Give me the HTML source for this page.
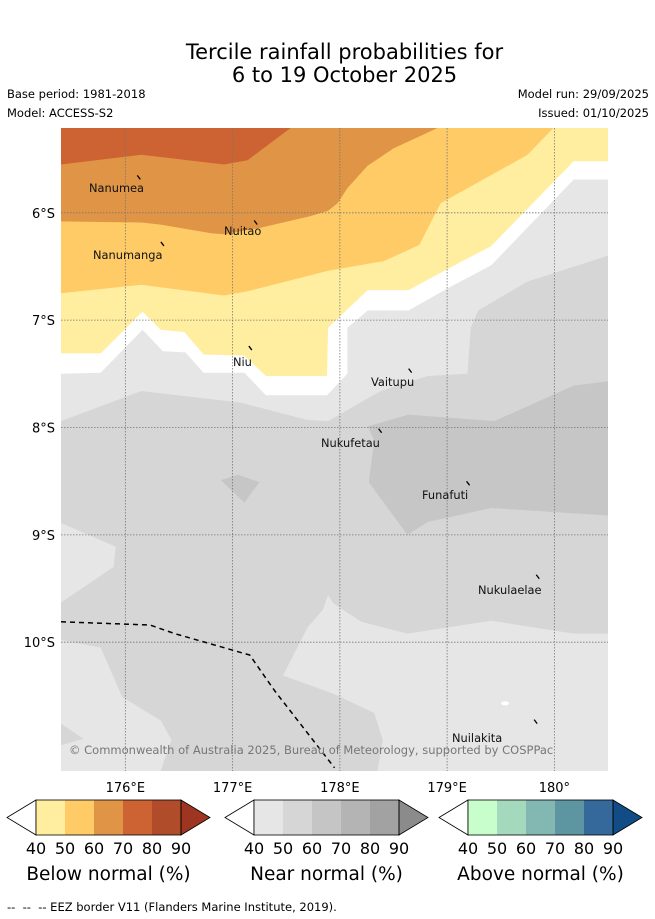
<!DOCTYPE html>
<html><head><meta charset="utf-8"><style>
body{margin:0;background:#fff;font-family:"Liberation Sans","DejaVu Sans",sans-serif}
#wrap{position:relative;width:655px;height:919px;overflow:hidden}
.t{position:absolute;white-space:nowrap;color:#000}
</style></head><body>
<div id="wrap">
<div class="t" style="left:0;width:689px;top:41px;text-align:center;font-size:21px;line-height:23px;font-family:'DejaVu Sans',sans-serif">Tercile rainfall probabilities for<br>6 to 19 October 2025</div>
<div class="t" style="left:7px;top:87px;font-size:11.5px;font-family:'DejaVu Sans',sans-serif">Base period: 1981-2018</div>
<div class="t" style="left:7px;top:106px;font-size:11.5px;font-family:'DejaVu Sans',sans-serif">Model: ACCESS-S2</div>
<div class="t" style="right:6px;top:87px;font-size:11.5px;font-family:'DejaVu Sans',sans-serif">Model run: 29/09/2025</div>
<div class="t" style="right:6px;top:106px;font-size:11.5px;font-family:'DejaVu Sans',sans-serif">Issued: 01/10/2025</div>
<svg id="svg" width="655" height="919" style="position:absolute;left:0;top:0" font-family="DejaVu Sans, sans-serif"></svg>
<div class="t" style="left:7px;top:900px;font-size:11.5px;font-family:'DejaVu Sans',sans-serif">--&nbsp; --&nbsp; -- EEZ border V11 (Flanders Marine Institute, 2019).</div>
</div>
<script>
// map extent / ticks
const lonTicks=[176,177,178,179,180];
const lonTickLabels=["176°E","177°E","178°E","179°E","180°"];
const latTicks=[6,7,8,9,10];
const latTickLabels=["6°S","7°S","8°S","9°S","10°S"];
// polygons: [lon, latS]
const grayBase=[[175.40,5.21],[180.50,5.21],[180.50,11.20],[175.40,11.20]];
const near50=[[175.40,7.94],[176.15,7.66],[177.08,7.77],[177.70,7.93],[177.89,7.94],[178.38,7.66],[178.82,7.52],[179.19,7.50],[179.22,7.07],[179.29,6.91],[179.75,6.64],[180.50,6.40],[180.50,9.92],[180.18,9.92],[179.41,9.80],[178.63,9.92],[178.20,9.81],[177.94,9.64],[177.89,9.56],[177.84,9.70],[177.70,9.86],[177.47,10.31],[177.94,10.48],[178.32,10.66],[178.40,10.91],[178.35,11.20],[176.33,11.20],[176.43,10.91],[176.33,10.73],[175.97,10.51],[175.77,10.05],[175.40,9.98],[175.40,9.63],[175.89,9.30],[175.91,9.11],[175.40,8.89]];
const near50b=[[175.40,10.76],[175.61,10.90],[175.40,10.96]];
const near60=[[178.26,7.99],[178.64,7.88],[179.44,7.94],[180.18,7.61],[180.50,7.57],[180.50,8.82],[179.41,8.75],[178.82,8.88],[178.63,9.00],[178.27,8.51],[178.32,8.12]];
const near60b=[[176.89,8.49],[177.05,8.44],[177.25,8.51],[177.11,8.70]];
const noSignal=[[175.40,5.21],[180.50,5.21],[180.50,5.69],[180.18,5.69],[179.41,6.49],[179.03,6.69],[178.64,6.91],[178.26,6.91],[178.07,7.07],[178.07,7.50],[177.88,7.70],[177.31,7.70],[177.11,7.49],[176.73,7.49],[176.56,7.30],[176.35,7.29],[176.16,7.09],[175.77,7.49],[175.40,7.50]];
const below40=[[175.40,5.21],[180.50,5.21],[180.50,5.52],[180.18,5.52],[179.41,6.31],[179.03,6.51],[178.64,6.72],[178.26,6.72],[177.89,7.07],[177.88,7.52],[177.31,7.52],[177.11,7.33],[176.73,7.32],[176.55,7.11],[176.33,7.09],[176.16,6.92],[175.77,7.31],[175.40,7.31]];
const below50=[[175.40,5.21],[179.99,5.21],[179.75,5.46],[178.94,5.91],[178.74,6.30],[178.41,6.45],[177.89,6.54],[177.14,6.73],[176.92,6.77],[176.15,6.67],[175.40,6.75]];
const below60=[[175.40,5.21],[178.91,5.21],[178.50,5.40],[178.26,5.56],[178.07,5.77],[177.98,5.91],[177.89,5.98],[177.73,6.03],[177.26,6.14],[176.92,6.20],[176.80,6.19],[176.33,6.11],[176.15,6.09],[175.40,6.08]];
const below70=[[175.40,5.21],[177.54,5.21],[177.14,5.51],[176.92,5.55],[176.15,5.46],[175.40,5.55]];
const eez=[[175.40,9.81],[176.23,9.84],[176.46,9.92],[177.16,10.12],[177.39,10.45],[177.95,11.17]];
const islands=[["Nanumea",176.13,5.67,89,192],["Nuitao",177.22,6.09,224,235],["Nanumanga",176.35,6.29,93,259],["Niu",177.17,7.26,233,366],["Vaitupu",178.66,7.47,371,386],["Nukufetau",178.38,8.03,321,447],["Funafuti",179.20,8.52,422,499],["Nukulaelae",179.85,9.39,478,594],["Nuilakita",179.83,10.74,452,742]];
// colorbars
const cbTicks=["40","50","60","70","80","90"];
const belowColors=["#ffeda0","#fecb66","#e09446","#cd6233","#b14c2b","#9e3520"];
const nearColors=["#e6e6e6","#d6d6d6","#c5c5c5","#b4b4b4","#a2a2a2","#8b8b8b"];
const aboveColors=["#c8fdcc","#a4d9bd","#83b8b2","#5d95a1","#35699b","#124c86"];
const cbTitles=["Below normal (%)","Near normal (%)","Above normal (%)"];

const L=61,R=608,T=128,B=771,lon0=175.40,lon1=180.50,lat0=5.21,lat1=11.20;
const xs=lon=>L+(lon-lon0)/(lon1-lon0)*(R-L);
const ys=lat=>T+(lat-lat0)/(lat1-lat0)*(B-T);
const NS='http://www.w3.org/2000/svg';
const svg=document.getElementById('svg');
function mk(tag,attrs,parent){const e=document.createElementNS(NS,tag);for(const k in attrs)e.setAttribute(k,attrs[k]);(parent||svg).appendChild(e);return e;}
const clip=mk('clipPath',{id:'mc'});mk('rect',{x:L,y:T,width:R-L,height:B-T},clip);
const g=mk('g',{'clip-path':'url(#mc)'});


function poly(pts,fill,name){const p=mk('polygon',{points:pts.map(q=>xs(q[0]).toFixed(1)+','+ys(q[1]).toFixed(1)).join(' '),fill:fill},g);

}
poly(grayBase,'#e6e6e6','near-normal-40-region');
poly(near50,'#d6d6d6','near-normal-50-region');
poly(near50b,'#d6d6d6','near-normal-50-patch');
poly(near60,'#c6c6c6','near-normal-60-region');
poly(near60b,'#c6c6c6','near-normal-60-patch');
poly(noSignal,'#ffffff','no-signal-band');
poly(below40,'#ffeda0','below-normal-40-region');
poly(below50,'#fecb66','below-normal-50-region');
poly(below60,'#e09446','below-normal-60-region');
poly(below70,'#cd6233','below-normal-70-region');
const sp=mk('ellipse',{cx:xs(179.54),cy:ys(10.57),rx:4,ry:2,fill:'#fff'},g);


lonTicks.forEach((v,i)=>{const l=mk('line',{x1:xs(v),x2:xs(v),y1:T,y2:B,stroke:'#777','stroke-width':0.8,'stroke-dasharray':'1.5,1.5'},g);


const t=mk('text',{x:xs(v),y:792,'text-anchor':'middle','font-size':13});t.textContent=lonTickLabels[i];

});
latTicks.forEach((v,i)=>{const l=mk('line',{x1:L,x2:R,y1:ys(v),y2:ys(v),stroke:'#777','stroke-width':0.8,'stroke-dasharray':'1.5,1.5'},g);


const t=mk('text',{x:55,y:ys(v)+5,'text-anchor':'end','font-size':13});t.textContent=latTickLabels[i];

});
const ez=mk('polyline',{points:eez.map(q=>xs(q[0])+','+ys(q[1])).join(' '),fill:'none',stroke:'#000','stroke-width':1.5,'stroke-dasharray':'5,4'},g);


islands.forEach(d=>{const m=mk('line',{x1:xs(d[1])-2,y1:ys(d[2])-2,x2:xs(d[1])+1,y2:ys(d[2])+2,stroke:'#000','stroke-width':1.3},g);


const t=mk('text',{x:d[3],y:d[4],'font-size':11.4,fill:'#111'},g);t.textContent=d[0];

});
const cp=mk('text',{x:69,y:754,'font-size':11.5,fill:'#777'},g);cp.textContent='© Commonwealth of Australia 2025, Bureau of Meteorology, supported by COSPPac';


[[7,belowColors,'below-normal-colorbar'],[225,nearColors,'near-normal-colorbar'],[439,aboveColors,'above-normal-colorbar']].forEach((c,ci)=>{
const x0=c[0],cols=c[1],bw=29,y0=800,h=35;
const cg=mk('g',{});


mk('polygon',{points:`${x0},${y0+h/2} ${x0+bw},${y0} ${x0+bw},${y0+h}`,fill:'#fff',stroke:'#000','stroke-width':0.8},cg);
for(let i=0;i<5;i++){mk('rect',{x:x0+bw*(i+1),y:y0,width:bw,height:h,fill:cols[i]},cg);}
mk('polygon',{points:`${x0+bw*6},${y0} ${x0+bw*7},${y0+h/2} ${x0+bw*6},${y0+h}`,fill:cols[5],stroke:'#000','stroke-width':0.8},cg);
mk('rect',{x:x0+bw,y:y0,width:bw*5,height:h,fill:'none',stroke:'#000','stroke-width':0.8},cg);
cbTicks.forEach((v,i)=>{const t=mk('text',{x:x0+bw*(i+1),y:854,'text-anchor':'middle','font-size':16},cg);t.textContent=v;

});
const tt=mk('text',{x:x0+bw*3.5,y:880,'text-anchor':'middle','font-size':18.5},cg);tt.textContent=cbTitles[ci];


});
</script>
</body></html>
